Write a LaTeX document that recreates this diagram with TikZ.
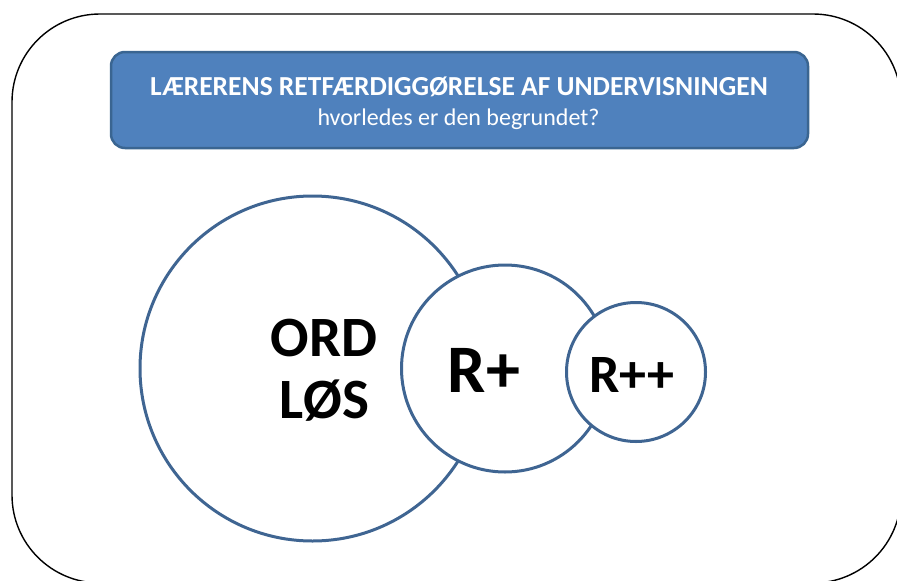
\documentclass[tikz,border=0pt]{standalone}
\usepackage{fontspec}
\setmainfont{Carlito}
\begin{document}
\begin{tikzpicture}[x=1pt,y=-1pt,
  frame/.style={draw=black,line width=1.4pt,rounded corners=88pt},
  header/.style={draw=hdrborder,fill=hdrfill,line width=2.5pt,rounded corners=14pt,
    minimum width=697pt,minimum height=96pt,inner sep=0pt},
  ring/.style={circle,draw=ringblue,fill=white,line width=3pt,inner sep=0pt},
  label/.style={font=\bfseries,text=black,align=center,inner sep=0pt}]
\definecolor{hdrfill}{HTML}{4F81BD}
\definecolor{hdrborder}{HTML}{3A6591}
\definecolor{ringblue}{HTML}{3F6592}
\useasboundingbox (0,0) rectangle (897,581);
\clip (0,0) rectangle (897,581);
% outer rounded frame (runs past the right and bottom edges)
\draw[frame] (12,14) rectangle (901,583);
% title banner
\node[header] (title) at (459.5,100) {};
\node[text=white,font=\bfseries\fontsize{27.5}{32}\selectfont,inner sep=0pt,anchor=base] (titletext) at (459,95)
  {LÆRERENS RETFÆRDIGGØRELSE AF UNDERVISNINGEN};
\node[text=white,font=\fontsize{24}{28}\selectfont,inner sep=0pt,anchor=base] (subtitle) at (458.5,125)
  {hvorledes er den begrundet?};
% three overlapping circles
\node[ring,minimum size=345pt] (ord) at (312.5,368.5) {};
\node[ring,minimum size=207pt] (rplus) at (505,368.5) {};
\node[ring,minimum size=139pt] (rpp) at (636,372) {};
\node[label,font=\bfseries\fontsize{57}{62}\selectfont] (ordtext) at (324,370) {ORD\\LØS};
\node[label,font=\bfseries\fontsize{68}{70}\selectfont] (rplustext) at (484,370) {R+};
\node[label,font=\bfseries\fontsize{54}{58}\selectfont] (rpptext) at (632,375) {R++};
\end{tikzpicture}
\end{document}
